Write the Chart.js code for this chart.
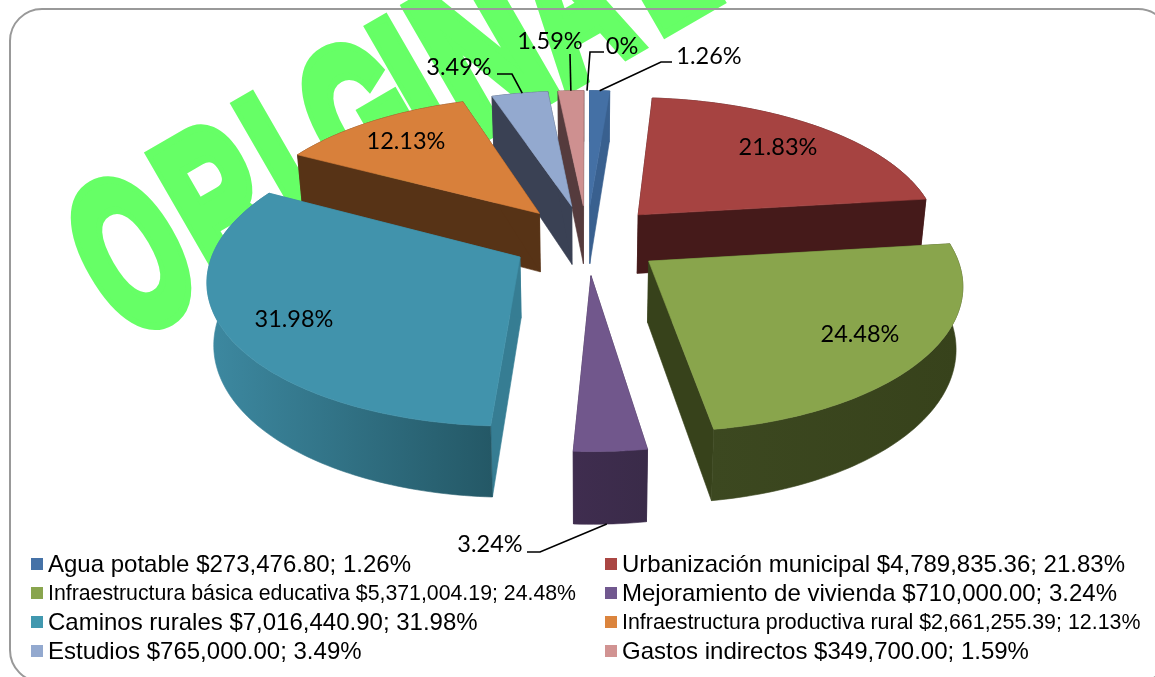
<!DOCTYPE html>
<html>
<head>
<meta charset="utf-8">
<style>html,body{margin:0;padding:0;background:#fff;overflow:hidden}canvas{display:block}</style>
<script src="https://cdn.jsdelivr.net/npm/chart.js@4"></script>
</head>
<body>
<div style="position:absolute;left:0;top:0;width:1155px;height:677px"><canvas id="c" width="1155" height="677"></canvas></div>
<script>
// ---- data ----
const categories = ['Agua potable','Urbanización municipal','Infraestructura básica educativa','Mejoramiento de vivienda','Caminos rurales','Infraestructura productiva rural','Estudios','Gastos indirectos',''];
const amounts = ['$273,476.80','$4,789,835.36','$5,371,004.19','$710,000.00','$7,016,440.90','$2,661,255.39','$765,000.00','$349,700.00',''];
const values = [273476.80,4789835.36,5371004.19,710000.00,7016440.90,2661255.39,765000.00,349700.00,0];
const percents = ['1.26%','21.83%','24.48%','3.24%','31.98%','12.13%','3.49%','1.59%','0%'];
// ---- styles ----
const topColors  = ['#4470a5','#a64341','#89a54c','#71578c','#4193ac','#d8803b','#93a9cf','#ce9090','#ce9090'];
const wallColors = ['#39608f','#451a1a','#37421b','#3f2d4f','#367d93','#573316','#3a4154','#553b3d','#553b3d'];
const rimColors  = [['#39608f','#39608f'],['#451a1a','#451a1a'],['#3c4820','#37421b'],['#3f2d4f','#3a2b49'],['#3d89a1','#245866'],['#573316','#573316'],['#3a4154','#3a4154'],['#553b3d','#553b3d'],['#553b3d','#553b3d']];
const legendColors = ['#4572a7','#aa4643','#89a54e','#71588f','#4198af','#db843d','#93a9cf','#d19392'];
const legendFont = [24,24,21.3,24,24,21.4,24,24];
const EXPLODE = 0.25, PERSP = 0.14, SCALE_X = 303/239.5, SCALE_Y = 140/239.5, DEPTH = 60/239.5, BOTTOM_SHRINK = 0.018;
const FONT_LABEL = '23.5px Lato';
// inner label centres, outer label centres and leader elbows
const labelSpots = [[709,56],[778,147],[860,334],[490,544],[294,319],[406,141],[459,67],[550,41],[622,46]];
const leaders = {0:[[672,62],[661,62]],3:[[527,552],[540,552]],6:[[497,74],[512,74]],7:[[570,54],[570,54]],8:[[604,52],[590,52]]};
// watermark letters: glyph, left edge along the rotated baseline, horizontal scale
const stampLetters = ['O','R','I','G','I','N','A','L'];
const stampLeft = [-60,49,148,207,302,345,445,556];
const stampWide = [0.58,0.58,0.58,0.58,0.58,0.68,0.58,0.58];

function project(el,u,v,z){
  const w = 1-PERSP*v, R = el.outerRadius;
  return [el.x + SCALE_X*R*u/w*(1-BOTTOM_SHRINK*z), el.y + SCALE_Y*R*v/w + DEPTH*R*z/w];
}
function geom(el){
  const a0=el.startAngle,a1=el.endAngle,mid=(a0+a1)/2;
  const ou=EXPLODE*Math.cos(mid),ov=EXPLODE*Math.sin(mid);
  const rim=[];const n=Math.max(2,Math.ceil((a1-a0)/0.02));
  for(let i=0;i<=n;i++){const a=a0+(a1-a0)*i/n;rim.push([ou+Math.cos(a),ov+Math.sin(a)]);}
  return {ou,ov,rim,mid};
}
function poly(ctx,pts,fill){
  ctx.beginPath();pts.forEach((p,i)=>i?ctx.lineTo(p[0],p[1]):ctx.moveTo(p[0],p[1]));ctx.closePath();
  ctx.fillStyle=fill;ctx.fill();ctx.strokeStyle=fill;ctx.lineWidth=0.6;ctx.stroke();
}
function drawSlice(ctx,el,i){
  const g=geom(el);
  const top=g.rim.map(p=>project(el,p[0],p[1],0));
  const bot=g.rim.map(p=>project(el,p[0],p[1],1));
  const o0=project(el,g.ou,g.ov,0),o1=project(el,g.ou,g.ov,1);
  const xs=top.concat(bot).map(p=>p[0]);
  const grad=ctx.createLinearGradient(Math.min(...xs),0,Math.max(...xs),0);
  grad.addColorStop(0,rimColors[i][0]);grad.addColorStop(1,rimColors[i][1]);
  // radial walls
  poly(ctx,[o0,top[0],bot[0],o1],wallColors[i]);
  poly(ctx,[o0,top[top.length-1],bot[bot.length-1],o1],wallColors[i]);
  // outer rim
  poly(ctx,top.concat(bot.slice().reverse()),grad);
  // top face
  poly(ctx,[o0].concat(top),topColors[i]);
}
const scene={
  id:'scene',
  beforeDraw(chart){
    const ctx=chart.ctx;
    ctx.save();
    ctx.fillStyle='#fff';ctx.fillRect(0,0,chart.width,chart.height);
    // watermark
    ctx.save();
    ctx.translate(179,310);ctx.rotate(-Math.PI/6);
    ctx.font='bold 212px "Liberation Sans"';ctx.textBaseline='alphabetic';ctx.textAlign='left';
    ctx.fillStyle='#66ff66';ctx.strokeStyle='#66ff66';ctx.lineWidth=16;ctx.lineJoin='miter';
    stampLetters.forEach((ch,i)=>{
      ctx.save();
      ctx.scale(stampWide[i],1);
      const abl=ctx.measureText(ch).actualBoundingBoxLeft;
      const x=(stampLeft[i]+4)/stampWide[i]+abl;
      ctx.strokeText(ch,x,0);ctx.fillText(ch,x,0);
      ctx.restore();
    });
    ctx.restore();
    // frame
    ctx.beginPath();ctx.roundRect(10,9,1160,673,32);ctx.strokeStyle='#999';ctx.lineWidth=2;ctx.stroke();
    ctx.restore();
  },
  beforeDatasetsDraw(chart){
    const ctx=chart.ctx,els=chart.getDatasetMeta(0).data;
    const order=els.map((e,i)=>i).filter(i=>values[i]>0)
      .sort((a,b)=>Math.sin((els[a].startAngle+els[a].endAngle)/2)-Math.sin((els[b].startAngle+els[b].endAngle)/2));
    ctx.save();
    order.forEach(i=>drawSlice(ctx,els[i],i));
    ctx.restore();
    return false;
  },
  afterDraw(chart){
    const ctx=chart.ctx,els=chart.getDatasetMeta(0).data;
    ctx.save();
    // leaders
    ctx.strokeStyle='#000';ctx.lineWidth=1.6;
    Object.keys(leaders).forEach(k=>{
      const i=+k,el=els[i],g=geom(el);
      const a=g.mid;
      const p=values[i]>0?g.rim[Math.floor(g.rim.length/2)]:[Math.cos(a)*(1+EXPLODE),Math.sin(a)*(1+EXPLODE)];
      const end=project(el,p[0],p[1],i===3?1:0);
      ctx.beginPath();
      const l=leaders[k];
      ctx.moveTo(l[0][0],l[0][1]);ctx.lineTo(l[1][0],l[1][1]);ctx.lineTo(end[0],end[1]);ctx.stroke();
    });
    // percentage labels
    ctx.fillStyle='#000';ctx.font=FONT_LABEL;ctx.textAlign='center';ctx.textBaseline='middle';
    percents.forEach((t,i)=>ctx.fillText(t,labelSpots[i][0],labelSpots[i][1]));
    // legend
    ctx.textAlign='left';
    const cols=[[31,48],[605,622]],rows=[564,593,622,651];
    categories.forEach((c,i)=>{
      if(!c)return;
      const col=cols[i%2],y=rows[Math.floor(i/2)];
      ctx.fillStyle=legendColors[i];ctx.fillRect(col[0],y-6,12,12);
      ctx.fillStyle='#000';ctx.font=legendFont[i]+'px "Liberation Sans"';
      ctx.fillText(c+' '+amounts[i]+'; '+percents[i],col[1],y+1);
    });
    ctx.restore();
  }
};
new Chart(document.getElementById('c'),{
  type:'pie',
  data:{labels:categories,datasets:[{data:values,backgroundColor:topColors,borderWidth:0}]},
  options:{
    responsive:false,animation:false,
    layout:{padding:{left:19,right:0,top:0,bottom:198}},
    plugins:{legend:{display:false},tooltip:{enabled:false},title:{display:false}}
  },
  plugins:[scene]
});
</script>
</body>
</html>
